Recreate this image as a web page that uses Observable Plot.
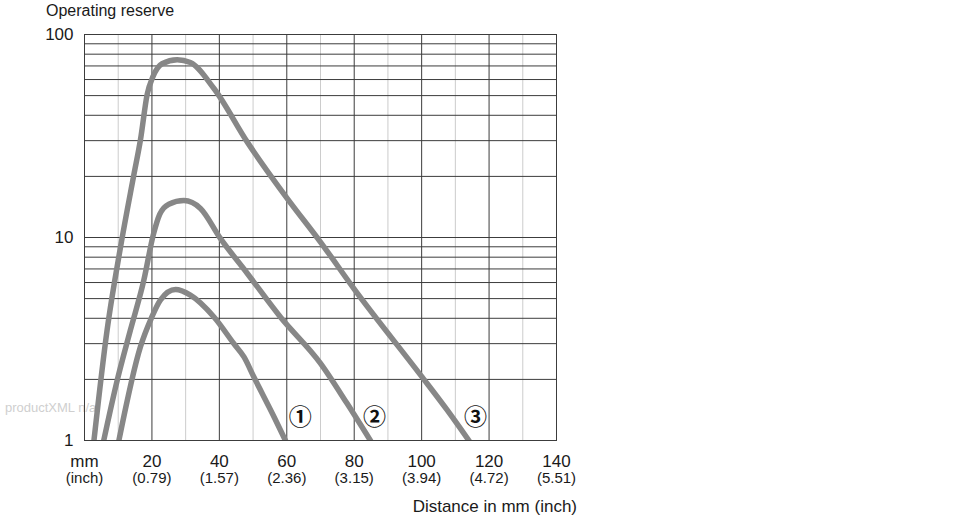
<!DOCTYPE html>
<html>
<head>
<meta charset="utf-8">
<script src="https://cdn.jsdelivr.net/npm/d3@7"></script>
<script src="https://cdn.jsdelivr.net/npm/@observablehq/plot@0.6"></script>
<style>
  html, body { margin: 0; padding: 0; background: #fff; }
  body { width: 970px; height: 520px; position: relative; overflow: hidden; font-family: "Liberation Sans", Arial, sans-serif; color: #1a1a1a; }
  #title { position: absolute; left: 46px; top: 1px; font-size: 16px; line-height: 20px; }
  #watermark { position: absolute; left: 5px; top: 400px; font-size: 13px; line-height: 16px; color: #cfcfcf; }
  #chart { position: absolute; left: 0; top: 24px; }
  #caption { position: absolute; left: 0; width: 577px; text-align: right; top: 497px; font-size: 17px; line-height: 20px; }
</style>
</head>
<body>
<div id="title">Operating reserve</div>
<div id="watermark">productXML n/a</div>
<div id="chart"></div>
<div id="caption">Distance in mm (inch)</div>
<script>
// ---- data ----
const xTicks = [0, 20, 40, 60, 80, 100, 120, 140];
const mmLabels = ["mm", "20", "40", "60", "80", "100", "120", "140"];
const inchLabels = ["(inch)", "(0.79)", "(1.57)", "(2.36)", "(3.15)", "(3.94)", "(4.72)", "(5.51)"];
const xMajorGrid = [20, 40, 60, 80, 100, 120];
const xMinorGrid = [10, 30, 50, 70, 90, 110, 130];
const yTicks = [1, 10, 100];
const yGrid = [2, 3, 4, 5, 6, 7, 8, 9, 10, 20, 30, 40, 50, 60, 70, 80, 90];

// curve 1 (smallest)
const curve1Mm  = [10.2, 16.6, 19.8, 22.5, 27.0, 31.4, 38.4, 44.3, 47.3, 50.2, 56.2, 59.6];
const curve1Val = [1.0, 2.9, 4.0, 4.92, 5.54, 5.2, 4.06, 3.0, 2.58, 2.06, 1.31, 1.0];
// curve 2 (middle)
const curve2Mm  = [5.7, 9.7, 13.6, 17.6, 20.4, 22.3, 25.0, 29.5, 34.4, 40.3, 48.3, 58.1, 70.0, 77.9, 84.8];
const curve2Val = [1.0, 1.98, 3.49, 6.16, 10.3, 13.0, 14.6, 15.2, 13.9, 9.9, 6.65, 4.06, 2.4, 1.52, 1.0];
// curve 3 (largest)
const curve3Mm  = [2.8, 6.7, 10.7, 14.6, 16.6, 18.6, 20.3, 23.0, 27.5, 31.4, 38.4, 48.3, 60.1, 70.0, 79.9, 99.7, 107.6, 114.0];
const curve3Val = [1.0, 3.5, 9.0, 20.2, 30.3, 50.8, 62.0, 71.8, 75.1, 72.8, 54.2, 29.5, 15.6, 9.5, 5.6, 2.1, 1.41, 1.0];

const curveLabels = ["①", "②", "③"];
const curveLabelMm = [64, 86, 116];
const curveLabelVal = [1.29, 1.29, 1.29];

// ---- build ----
const series = [
  {id: 1, mm: curve1Mm, val: curve1Val},
  {id: 2, mm: curve2Mm, val: curve2Val},
  {id: 3, mm: curve3Mm, val: curve3Val}
];
const points = series.flatMap(s => s.mm.map((m, i) => ({curve: s.id, mm: m, val: s.val[i]})));
const labels = curveLabels.map((t, i) => ({text: t, mm: curveLabelMm[i], val: curveLabelVal[i]}));

const dark = "#3c3c3c";
const light = "#cccccc";
const curveColor = "#878787";

const chart = Plot.plot({
  width: 970,
  height: 470,
  marginLeft: 84,
  marginRight: 414,
  marginTop: 10,
  marginBottom: 54,
  style: {fontFamily: "'Liberation Sans', Arial, sans-serif", color: "#1a1a1a", background: "transparent"},
  x: {domain: [0, 140]},
  y: {type: "log", domain: [1, 100]},
  marks: [
    Plot.ruleX(xMinorGrid, {stroke: light, strokeWidth: 1}),
    Plot.ruleX(xMajorGrid, {stroke: dark, strokeWidth: 1}),
    Plot.ruleY(yGrid, {stroke: dark, strokeWidth: 1}),
    Plot.frame({stroke: dark, strokeWidth: 1}),
    Plot.line(points, {
      x: "mm", y: "val", z: "curve",
      stroke: curveColor, strokeWidth: 5.5,
      curve: "monotone-x", strokeLinejoin: "round", strokeLinecap: "square",
      clip: true
    }),
    Plot.text(labels, {
      x: "mm", y: "val", text: "text",
      fontSize: 23, fontWeight: "bold",
      fontFamily: "'Noto Sans CJK JP', 'DejaVu Sans', sans-serif", fill: "#111"
    }),
    Plot.axisY(yTicks, {
      tickSize: 0, tickPadding: 11, fontSize: 17,
      tickFormat: d => String(d), label: null
    }),
    Plot.axisX(xTicks, {
      tickSize: 0, tickPadding: 14, fontSize: 17,
      tickFormat: d => mmLabels[xTicks.indexOf(d)], label: null
    }),
    Plot.axisX(xTicks, {
      tickSize: 0, tickPadding: 32, fontSize: 15,
      tickFormat: d => inchLabels[xTicks.indexOf(d)], label: null
    })
  ]
});
document.getElementById("chart").appendChild(chart);
</script>
</body>
</html>
